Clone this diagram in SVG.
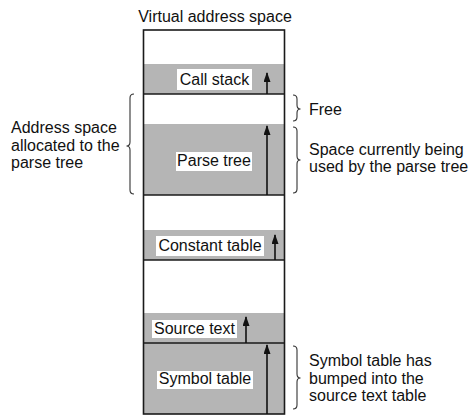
<svg xmlns="http://www.w3.org/2000/svg" width="475" height="420" viewBox="0 0 475 420">
  <style>
    text { font-family: "Liberation Sans", Arial, sans-serif; font-size: 16px; fill: #111; }
    .mid { text-anchor: middle; }
    .fill { fill: #b5b5b5; stroke: none; }
    .lab { fill: #ffffff; stroke: none; }
    .div { stroke: #1a1a1a; stroke-width: 1.6; fill: none; }
    .arr { stroke: #111; stroke-width: 1.6; fill: none; marker-end: url(#ah); }
    .brace { stroke: #333; stroke-width: 1.1; fill: none; }
  </style>
  <defs>
    <marker id="ah" markerUnits="userSpaceOnUse" markerWidth="10" markerHeight="7" refX="9" refY="3.5" orient="auto">
      <path d="M0,0 L10,3.5 L0,7 z" fill="#111"/>
    </marker>
  </defs>
  <rect x="0" y="0" width="475" height="420" fill="#ffffff"/>

  <g id="title">
    <text class="mid" x="215" y="22">Virtual address space</text>
  </g>

  <g id="call-stack">
    <rect class="fill" x="143.5" y="64" width="141" height="30"/>
    <rect class="lab" x="177" y="69" width="75" height="21"/>
    <text class="mid" x="214.5" y="85">Call stack</text>
  </g>

  <g id="parse-tree">
    <rect class="fill" x="143.5" y="124" width="141" height="71"/>
    <rect class="lab" x="176" y="152" width="76" height="19"/>
    <text class="mid" x="214" y="166">Parse tree</text>
  </g>

  <g id="constant-table">
    <rect class="fill" x="143.5" y="230" width="141" height="30"/>
    <rect class="lab" x="156" y="236" width="108" height="20"/>
    <text class="mid" x="210" y="251">Constant table</text>
  </g>

  <g id="source-text">
    <rect class="fill" x="143.5" y="313" width="141" height="30"/>
    <rect class="lab" x="152" y="320" width="85" height="18"/>
    <text class="mid" x="194.5" y="334">Source text</text>
  </g>

  <g id="symbol-table">
    <rect class="fill" x="143.5" y="343" width="141" height="71"/>
    <rect class="lab" x="157" y="371" width="96" height="18"/>
    <text class="mid" x="205" y="384">Symbol table</text>
  </g>

  <g id="address-space">
    <rect x="143.5" y="30" width="141" height="384" fill="none" stroke="#1a1a1a" stroke-width="1.6"/>
    <line class="div" x1="143.5" y1="94" x2="284.5" y2="94"/>
    <line class="div" x1="143.5" y1="195" x2="284.5" y2="195"/>
    <line class="div" x1="143.5" y1="260" x2="284.5" y2="260"/>
    <line class="div" x1="143.5" y1="343" x2="284.5" y2="343"/>
  </g>

  <g id="connectors">
    <line class="arr" x1="267" y1="94" x2="267" y2="73"/>
    <line class="arr" x1="267" y1="195" x2="267" y2="126"/>
    <line class="arr" x1="275" y1="260" x2="275" y2="235"/>
    <line class="arr" x1="246" y1="343" x2="246" y2="317"/>
    <line class="arr" x1="267" y1="414" x2="267" y2="345"/>
  </g>

  <g id="allocated-note">
    <path class="brace" d="M134,94 Q130,94 130,98 L130,142 Q130,146 126.5,146 Q130,146 130,150 L130,190 Q130,194 134,194"/>
    <text x="11" y="133">Address space</text>
    <text x="11" y="151">allocated to the</text>
    <text x="11" y="168">parse tree</text>
  </g>

  <g id="free-note">
    <path class="brace" d="M293,95 Q297,95 297,99 L297,105 Q297,109 300.5,109 Q297,109 297,113 L297,117 Q297,121 293,121"/>
    <text x="309" y="115">Free</text>
  </g>

  <g id="used-note">
    <path class="brace" d="M293,127 Q297,127 297,131 L297,156 Q297,160 300.5,160 Q297,160 297,164 L297,189 Q297,193 293,193"/>
    <text x="309" y="155">Space currently being</text>
    <text x="309" y="172">used by the parse tree</text>
  </g>

  <g id="bumped-note">
    <path class="brace" d="M293,346 Q297,346 297,350 L297,374 Q297,378 300.5,378 Q297,378 297,382 L297,405 Q297,409 293,409"/>
    <text x="309" y="366">Symbol table has</text>
    <text x="309" y="384">bumped into the</text>
    <text x="309" y="401">source text table</text>
  </g>
</svg>
